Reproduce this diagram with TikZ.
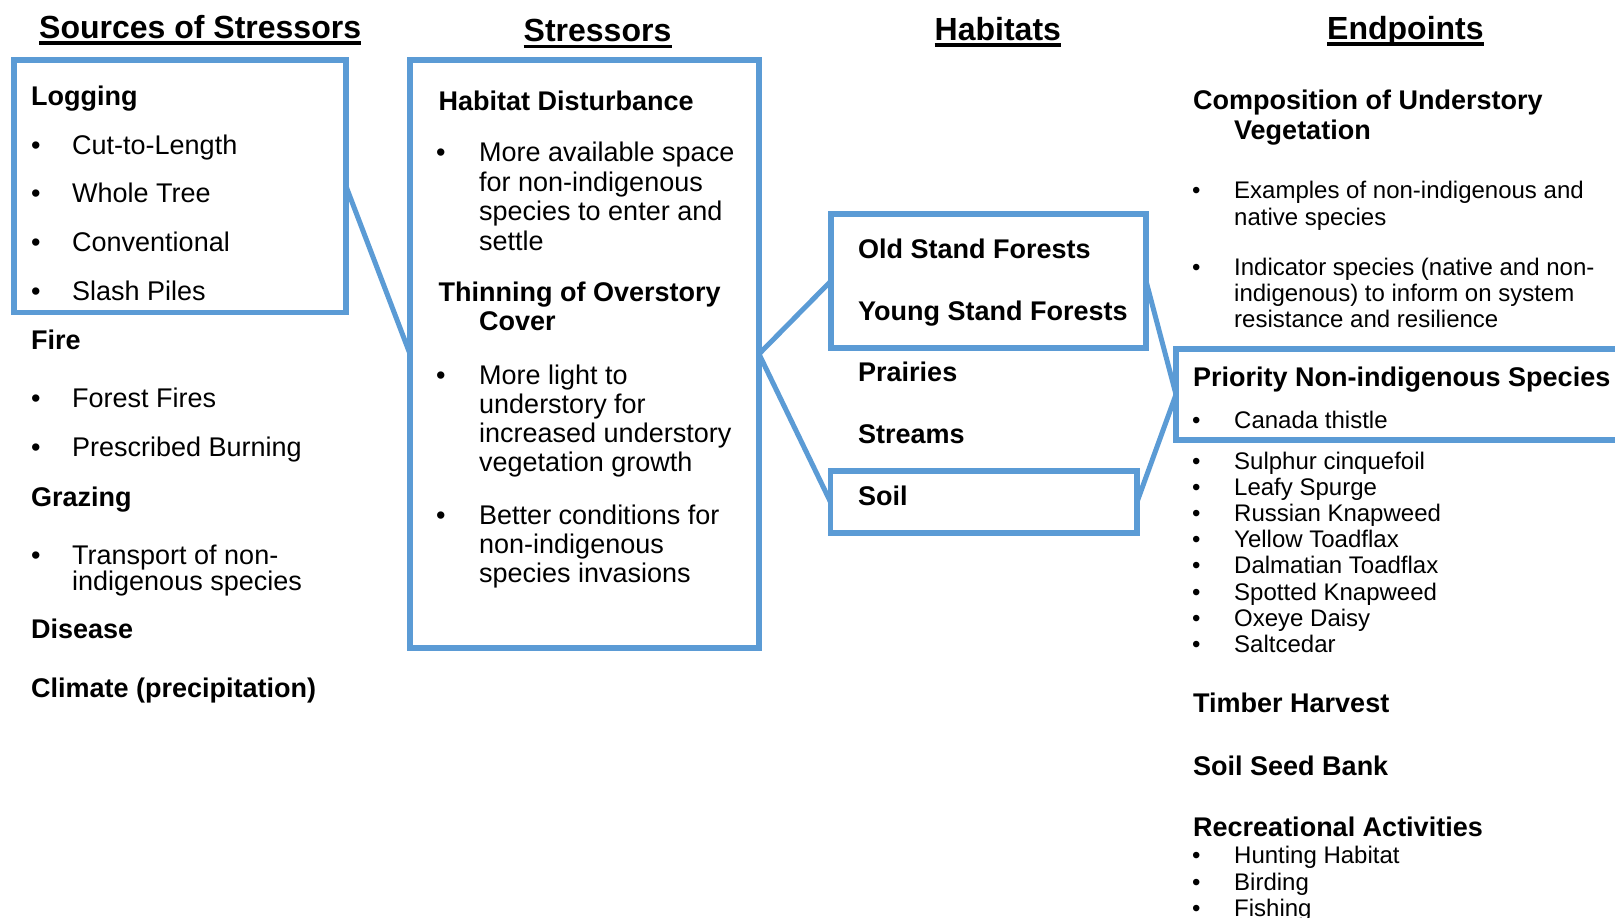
\documentclass[tikz,border=0pt]{standalone}
\usepackage{fontspec}
\setmainfont{Liberation Sans}
\definecolor{boxblue}{HTML}{5B9BD5}
% one bulleted line: name, bullet x, text x, baseline y, style, text
\newcommand\bulletline[6]{%
  \node[#5] (#1-dot) at (#2,#4) {•};
  \node[#5] (#1) at (#3,#4) {#6};}
\begin{document}
\begin{tikzpicture}[x=1pt,y=-1pt,
  box/.style={draw=boxblue, line width=5.5pt, rectangle, inner sep=0pt, outer sep=0pt},
  link/.style={draw=boxblue, line width=5pt},
  hd/.style={font=\fontsize{32}{38}\selectfont\bfseries, inner sep=0pt, anchor=base west},
  bt/.style={font=\fontsize{27}{32}\selectfont\bfseries, inner sep=0pt, anchor=base west},
  rt/.style={font=\fontsize{27}{32}\selectfont, inner sep=0pt, anchor=base west},
  st/.style={font=\fontsize{24}{28}\selectfont, inner sep=0pt, anchor=base west},
  uline/.style={line width=3.5pt}]
\fill[white] (0,0) rectangle (1615,918);
\useasboundingbox (0,0) rectangle (1615,918);

% column headings
\node[hd] (h-src) at (39,38) {Sources of Stressors};
\node[hd] (h-str) at (523.5,41.5) {Stressors};
\node[hd] (h-hab) at (934.5,40) {Habitats};
\node[hd] (h-end) at (1327,39) {Endpoints};
\foreach \h in {h-src,h-str,h-hab,h-end}
  \draw[uline] ([yshift=-5pt]\h.base west) -- ([yshift=-5pt]\h.base east);

% frames
\node[box, minimum width=332, minimum height=252.5] (bx-src) at (180,186.25) {};
\node[box, minimum width=349, minimum height=588] (bx-str) at (584.5,354) {};
\node[box, minimum width=315, minimum height=134] (bx-for) at (988.5,281) {};
\node[box, minimum width=306.5, minimum height=62] (bx-soil) at (983.75,502) {};
\node[box, minimum width=464, minimum height=91] (bx-pri) at (1408,394.5) {};

% links between frames
\draw[link] (bx-src.east) -- (bx-str.west);
\draw[link] (bx-str.east) -- (bx-for.west);
\draw[link] (bx-str.east) -- (bx-soil.west);
\draw[link] (bx-for.east) -- (bx-pri.west);
\draw[link] (bx-soil.east) -- (bx-pri.west);

% sources of stressors
\node[bt] (log) at (31,105) {Logging};
\bulletline{log1}{31}{72}{154}{rt}{Cut-to-Length}
\bulletline{log2}{31}{72}{202}{rt}{Whole Tree}
\bulletline{log3}{31}{72}{251}{rt}{Conventional}
\bulletline{log4}{31}{72}{300}{rt}{Slash Piles}
\node[bt] (fire) at (31,349) {Fire};
\bulletline{fire1}{31}{72}{407}{rt}{Forest Fires}
\bulletline{fire2}{31}{72}{456}{rt}{Prescribed Burning}
\node[bt] (graz) at (31,506) {Grazing};
\bulletline{graz1}{31}{72}{564}{rt}{Transport of non-}
\node[rt] (graz1b) at (72,590) {indigenous species};
\node[bt] (dis) at (31,638) {Disease};
\node[bt] (clim) at (31,697) {Climate (precipitation)};

% stressors
\node[bt] (hdist) at (438.5,110) {Habitat Disturbance};
\bulletline{hd1}{436}{479}{161.5}{rt}{More available space}
\node[rt] (hd1b) at (479,191) {for non-indigenous};
\node[rt] (hd1c) at (479,220) {species to enter and};
\node[rt] (hd1d) at (479,250) {settle};
\node[bt] (thin) at (438.5,301.5) {Thinning of Overstory};
\node[bt] (thinb) at (479,330.5) {Cover};
\bulletline{th1}{436}{479}{384}{rt}{More light to}
\node[rt] (th1b) at (479,413) {understory for};
\node[rt] (th1c) at (479,442.5) {increased understory};
\node[rt] (th1d) at (479,471.5) {vegetation growth};
\bulletline{th2}{436}{479}{524}{rt}{Better conditions for}
\node[rt] (th2b) at (479,553) {non-indigenous};
\node[rt] (th2c) at (479,582) {species invasions};

% habitats
\node[bt] (hab1) at (858,258) {Old Stand Forests};
\node[bt] (hab2) at (858,320) {Young Stand Forests};
\node[bt] (hab3) at (858,381.5) {Prairies};
\node[bt] (hab4) at (858,443) {Streams};
\node[bt] (hab5) at (858,505) {Soil};

% endpoints
\node[bt] (comp) at (1193,109.3) {Composition of Understory};
\node[bt] (compb) at (1234,139) {Vegetation};
\bulletline{ex1}{1192}{1234}{198}{st}{Examples of non-indigenous and}
\node[st] (ex1b) at (1234,225) {native species};
\bulletline{ex2}{1192}{1234}{275}{st}{Indicator species (native and non-}
\node[st] (ex2b) at (1234,301) {indigenous) to inform on system};
\node[st] (ex2c) at (1234,327) {resistance and resilience};
\node[bt] (pri) at (1193,386) {Priority Non-indigenous Species};
\bulletline{sp0}{1192}{1234}{428}{st}{Canada thistle}
\bulletline{sp1}{1192}{1234}{469}{st}{Sulphur cinquefoil}
\bulletline{sp2}{1192}{1234}{495}{st}{Leafy Spurge}
\bulletline{sp3}{1192}{1234}{521}{st}{Russian Knapweed}
\bulletline{sp4}{1192}{1234}{547}{st}{Yellow Toadflax}
\bulletline{sp5}{1192}{1234}{573.5}{st}{Dalmatian Toadflax}
\bulletline{sp6}{1192}{1234}{600}{st}{Spotted Knapweed}
\bulletline{sp7}{1192}{1234}{626}{st}{Oxeye Daisy}
\bulletline{sp8}{1192}{1234}{652}{st}{Saltcedar}
\node[bt] (timb) at (1193,712.5) {Timber Harvest};
\node[bt] (seed) at (1193,775) {Soil Seed Bank};
\node[bt] (rec) at (1193,836.5) {Recreational Activities};
\bulletline{rec1}{1192}{1234}{863}{st}{Hunting Habitat}
\bulletline{rec2}{1192}{1234}{890}{st}{Birding}
\bulletline{rec3}{1192}{1234}{916.5}{st}{Fishing}
\end{tikzpicture}
\end{document}
